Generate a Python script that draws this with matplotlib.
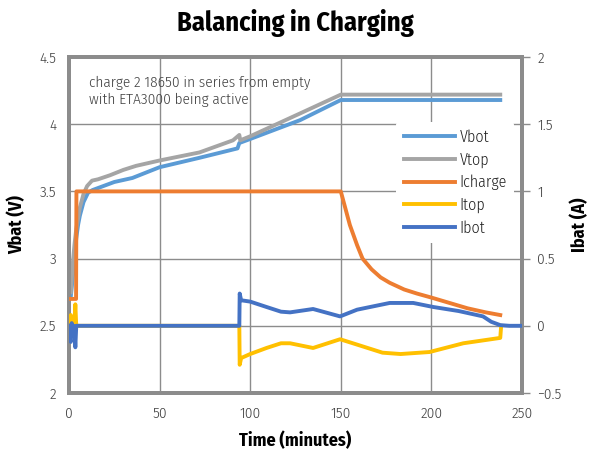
import matplotlib
matplotlib.use("Agg")
import matplotlib.pyplot as plt

FONT = 'Fira Sans Condensed'
plt.rcParams['font.family'] = [FONT, 'DejaVu Sans']

# ---- data ----
vbot_t = [1, 2, 3, 4, 5, 6, 8, 10.5, 13, 17, 25, 35, 50, 72, 93, 94, 100, 127.5, 150, 238]
vbot_v = [2.72, 2.85, 3.0, 3.15, 3.25, 3.32, 3.42, 3.49, 3.51, 3.53, 3.57, 3.6, 3.68, 3.75, 3.82, 3.86, 3.89, 4.03, 4.18, 4.18]

vtop_t = [1, 2, 3, 4, 5, 6, 8, 10, 12.7, 16, 22.6, 30, 37, 50, 72, 90.5, 94, 94.5, 100, 127.5, 150, 238]
vtop_v = [2.75, 2.95, 3.1, 3.22, 3.3, 3.38, 3.48, 3.54, 3.58, 3.59, 3.62, 3.66, 3.69, 3.73, 3.79, 3.88, 3.92, 3.88, 3.91, 4.08, 4.22, 4.22]

ichg_t = [0, 3.9, 4.1, 150, 152, 155, 159, 162, 167, 172, 177, 185, 192, 200, 210, 220, 230, 238]
ichg_i = [0.2, 0.2, 1.0, 1.0, 0.9, 0.75, 0.6, 0.5, 0.42, 0.36, 0.32, 0.27, 0.24, 0.21, 0.17, 0.13, 0.10, 0.08]

itop_t = [0, 0.5, 1, 1.5, 2, 2.5, 3, 3.5, 4, 4.5, 94, 94.2, 95, 100, 109, 117, 122, 134.7, 149.6, 159, 173, 183, 199, 217.6, 238, 238.5]
itop_i = [0, 0.05, 0.08, -0.05, 0.03, 0.0, 0.02, 0.16, 0.0, 0.0, 0.0, -0.29, -0.24, -0.21, -0.165, -0.13, -0.13, -0.165, -0.10, -0.14, -0.2, -0.21, -0.195, -0.13, -0.09, 0.0]

ibot_t = [0, 0.5, 1, 1.5, 2, 2.5, 3, 3.5, 4, 94, 94.2, 95, 100, 109, 117, 122, 134.7, 149.6, 159, 177, 190, 201, 215, 228.5, 233, 238, 243, 250]
ibot_i = [0, -0.1, -0.12, 0.02, -0.05, 0.0, -0.02, -0.16, 0.0, 0.0, 0.24, 0.19, 0.18, 0.14, 0.105, 0.10, 0.125, 0.07, 0.12, 0.17, 0.17, 0.14, 0.11, 0.07, 0.03, 0.005, 0, 0]

x_ticks = [0, 50, 100, 150, 200, 250]
v_ticks = [2, 2.5, 3, 3.5, 4, 4.5]
i_ticks = [-0.5, 0, 0.5, 1, 1.5, 2]

# ---- figure ----
fig = plt.figure(figsize=(5.91, 4.53), dpi=100)
ax = fig.add_axes([69/591, 1-393/453, (522-69)/591, (393-57)/453])
ax2 = ax.twinx()

lw = 2.8
spine_c = '#8c8c8c'
grid_c = '#8c8c8c'

l1, = ax.plot(vbot_t, vbot_v, color='#5B9BD5', lw=lw, label='Vbot', zorder=3)
l2, = ax.plot(vtop_t, vtop_v, color='#A5A5A5', lw=lw, label='Vtop', zorder=4)
l3, = ax2.plot(ichg_t, ichg_i, color='#ED7D31', lw=lw, label='Icharge', zorder=3)
l4, = ax2.plot(itop_t, itop_i, color='#FFC000', lw=lw, label='Itop', zorder=4)
l5, = ax2.plot(ibot_t, ibot_i, color='#4472C4', lw=lw, label='Ibot', zorder=5)

ax.set_xlim(0, 250)
ax.set_ylim(2, 4.5)
ax2.set_ylim(-0.5, 2)
ax.set_xticks(x_ticks)
ax.set_yticks(v_ticks)
ax2.set_yticks(i_ticks)
ax.set_xticklabels([f"{t:g}" for t in x_ticks])
ax.set_yticklabels([f"{t:g}" for t in v_ticks])
ax2.set_yticklabels([f"{t:g}".replace('-', '\u2212') for t in i_ticks])

ax.grid(True, color=grid_c, lw=1.0, zorder=0)
ax.set_axisbelow(True)

tick_c = '#404040'
ax.tick_params(axis='both', length=0, labelsize=11, labelcolor=tick_c, pad=9)
ax.tick_params(axis='x', pad=10)
ax2.tick_params(axis='y', length=6, width=1.0, color=spine_c, labelsize=11, labelcolor=tick_c, pad=5)
for lab in ax.get_xticklabels() + ax.get_yticklabels() + ax2.get_yticklabels():
    lab.set_fontweight(300)

for a in (ax, ax2):
    for s in a.spines.values():
        s.set_color(spine_c)
        s.set_linewidth(2.8)

ax.set_ylabel('Vbat (V)', fontsize=13, fontweight='bold', labelpad=10)
ax2.set_ylabel('Ibat (A)', fontsize=13, fontweight='bold', labelpad=6)
ax.set_xlabel('Time (minutes)', fontsize=13, fontweight='bold', labelpad=7)
fig.suptitle('Balancing in Charging', fontsize=19, fontweight='bold', y=0.98)

ax2.text(0.045, 0.945, 'charge 2 18650 in series from empty\nwith ETA3000 being active',
         transform=ax.transAxes, fontsize=11, color='#404040', va='top', ha='left',
         linespacing=1.3, fontweight=300, zorder=10)

leg = ax2.legend(handles=[l1, l2, l3, l4, l5], loc='upper right',
                 bbox_to_anchor=(1.0, 0.83), frameon=True, fontsize=11.5,
                 handlelength=3.2, labelspacing=0.42, borderpad=0.45, handletextpad=0.3)
leg.get_frame().set_edgecolor('none')
leg.get_frame().set_facecolor('white')
leg.get_frame().set_alpha(1)
leg.set_zorder(10)
for t in leg.get_texts():
    t.set_color('#202020')
    t.set_fontweight(300)

fig.savefig('out.png', dpi=100)
